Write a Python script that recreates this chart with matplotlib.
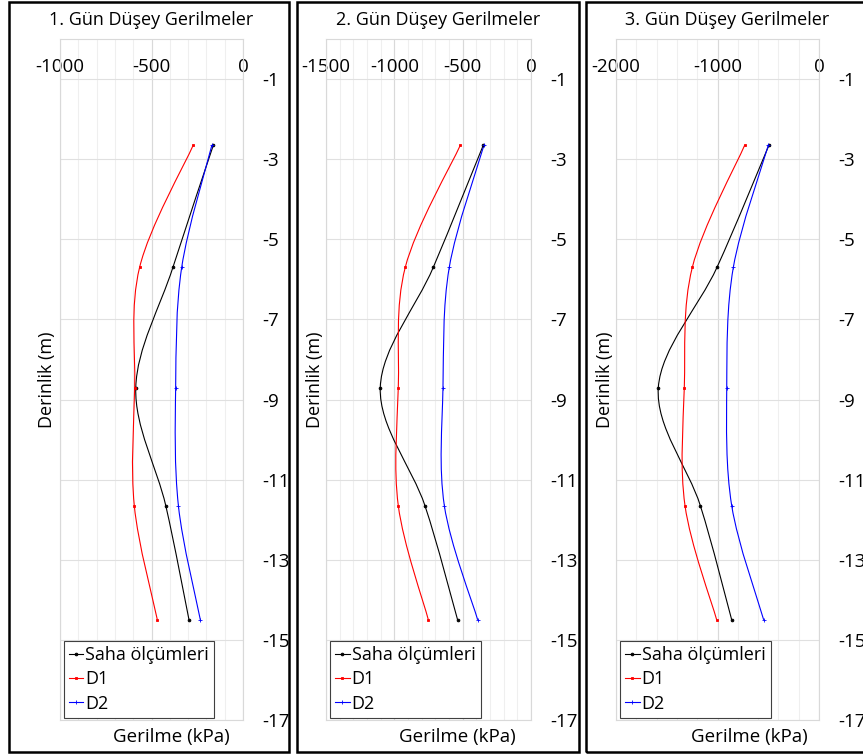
import matplotlib.pyplot as plt
from matplotlib.lines import Line2D
from matplotlib.patches import Rectangle, PathPatch
from matplotlib.path import Path

plt.rcParams['font.family'] = ['Open Sans', 'DejaVu Sans']
plt.rcParams['axes.unicode_minus'] = False

# depth of the measurement points (m)
depth = [-2.65, -5.7, -8.7, -11.65, -14.5]

titles = ['1. Gün Düşey Gerilmeler', '2. Gün Düşey Gerilmeler', '3. Gün Düşey Gerilmeler']
series_names = ['Saha ölçümleri', 'D1', 'D2']

# vertical stress (kPa) per day
saha = [[-162, -383, -586, -422, -295],
        [-349, -715, -1103, -776, -537],
        [-493, -1005, -1583, -1169, -860]]
d1 = [[-272, -565, -592, -594, -468],
      [-517, -920, -971, -971, -751],
      [-732, -1248, -1327, -1320, -1008]]
d2 = [[-170, -335, -368, -353, -233],
      [-344, -598, -644, -634, -390],
      [-499, -844, -909, -860, -545]]

x_min = [-1000, -1500, -2000]
x_major = [[-1000, -500, 0], [-1500, -1000, -500, 0], [-2000, -1000, 0]]
x_minor_step = [100, 100, 200]
y_ticks = [-1, -3, -5, -7, -9, -11, -13, -15, -17]

colors = ['black', '#ff0000', '#0000ff']
markers = ['o', 's', '+']


def smooth_path(xs, ys):
    # Excel-like smoothed line: Catmull-Rom as cubic Bezier segments
    pts = list(zip(xs, ys))
    verts = [pts[0]]
    codes = [Path.MOVETO]
    n = len(pts)
    for i in range(n - 1):
        p0 = pts[i - 1] if i > 0 else pts[i]
        p1 = pts[i]
        p2 = pts[i + 1]
        p3 = pts[i + 2] if i + 2 < n else pts[i + 1]
        c1 = (p1[0] + (p2[0] - p0[0]) / 6, p1[1] + (p2[1] - p0[1]) / 6)
        c2 = (p2[0] - (p3[0] - p1[0]) / 6, p2[1] - (p3[1] - p1[1]) / 6)
        verts += [c1, c2, p2]
        codes += [Path.CURVE4] * 3
    return Path(verts, codes)


fig = plt.figure(figsize=(8.63, 7.56), dpi=100)
W, H = 863, 756

ax_left = [60, 326, 616]
ax_width = [183, 205, 203]
ax_top, ax_bottom = 39, 720

box_left = [9, 297, 586]
box_right = [289, 579, 875]

title_x = [151, 438, 727]
xlabel_x = [171, 457, 749]
ylabel_x = [47, 315, 605]

for k in range(3):
    fig.add_artist(Rectangle((box_left[k] / W, (H - 752) / H),
                             (box_right[k] - box_left[k]) / W, 750 / H,
                             transform=fig.transFigure, fill=False,
                             edgecolor='black', linewidth=1.8))

    ax = fig.add_axes([ax_left[k] / W, (H - ax_bottom) / H,
                       ax_width[k] / W, (ax_bottom - ax_top) / H])
    ax.set_xlim(x_min[k], 0)
    ax.set_ylim(-17, 0)

    # grid
    minor = list(range(x_min[k], 1, x_minor_step[k]))
    for v in minor:
        ax.axvline(v, color='#efefef', linewidth=0.8, zorder=0)
    for v in x_major[k]:
        ax.axvline(v, color='#d9d9d9', linewidth=0.8, zorder=0)
    for v in y_ticks:
        ax.axhline(v, color='#e0e0e0', linewidth=0.8, zorder=0)

    for s in ax.spines.values():
        s.set_color('#d9d9d9')
        s.set_linewidth(0.8)

    ax.xaxis.tick_top()
    ax.set_xticks(x_major[k])
    ax.set_xticklabels([str(v) for v in x_major[k]])
    ax.tick_params(axis='x', length=0, pad=-27, labelsize=13.5)

    ax.yaxis.tick_right()
    ax.set_yticks(y_ticks)
    ax.set_yticklabels([str(v) for v in y_ticks])
    ax.tick_params(axis='y', length=0, pad=14, labelsize=13.5)

    data = [saha[k], d1[k], d2[k]]
    handles = []
    for j in range(3):
        ax.add_patch(PathPatch(smooth_path(data[j], depth), fill=False,
                               edgecolor=colors[j], linewidth=0.8, zorder=3))
        ax.plot(data[j], depth, linestyle='none', marker=markers[j],
                markersize=2 if j < 2 else 3, color=colors[j],
                markeredgewidth=0.6, zorder=4)
        handles.append(Line2D([], [], color=colors[j], linewidth=0.8,
                              marker=markers[j], markersize=2 if j < 2 else 3,
                              markeredgewidth=0.6))

    leg = ax.legend(handles, series_names, loc='lower left',
                    bbox_to_anchor=(0.01, 0.0), fontsize=13, frameon=True,
                    fancybox=False, edgecolor='#404040', framealpha=1,
                    handlelength=0.8, handletextpad=0.1, borderpad=0.3,
                    labelspacing=0.35, borderaxespad=0.1)
    leg.get_frame().set_linewidth(0.8)

    fig.text(title_x[k] / W, 1 - 20 / H, titles[k], ha='center', va='center',
             fontsize=13)
    fig.text(xlabel_x[k] / W, 1 - 737 / H, 'Gerilme (kPa)', ha='center',
             va='center', fontsize=13.5)
    fig.text(ylabel_x[k] / W, 1 - 380 / H, 'Derinlik (m)', ha='center',
             va='center', rotation=90, fontsize=13)

fig.savefig('out.png', dpi=100)
